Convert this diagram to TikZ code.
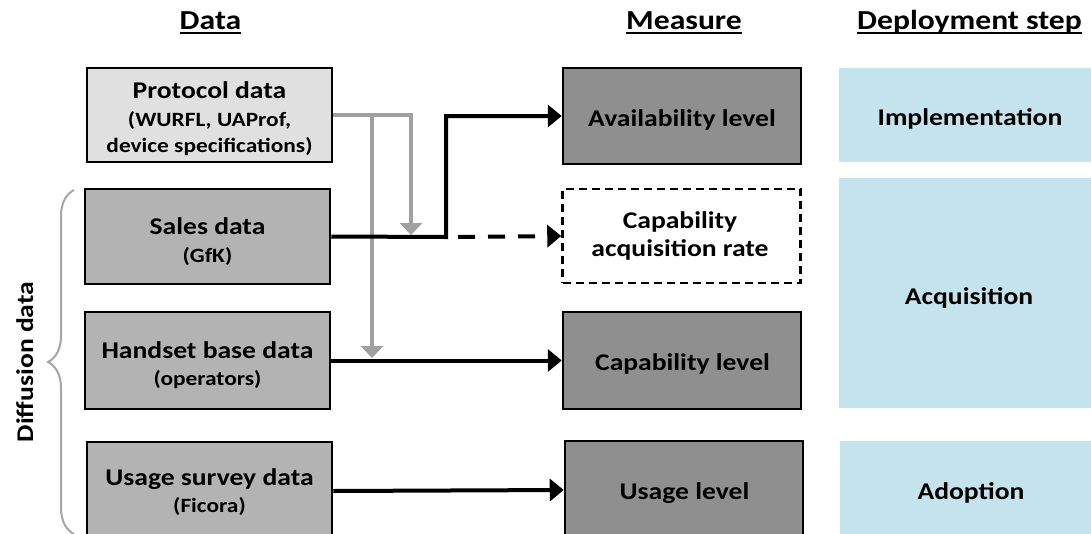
\documentclass[tikz,border=0pt]{standalone}
\usepackage{fontspec}
\setmainfont{Carlito}[FakeStretch=1.15]
\usetikzlibrary{arrows.meta,decorations.pathreplacing}
\definecolor{protofill}{HTML}{E0E0E0}
\definecolor{datafill}{HTML}{B3B3B3}
\definecolor{measfill}{HTML}{8F8F8F}
\definecolor{stepfill}{HTML}{C4E3EC}
\definecolor{garrowc}{HTML}{A0A0A0}
\definecolor{bracec}{HTML}{A6A6A6}
\newcommand\mainsz{\fontsize{24}{28}\selectfont}
\newcommand\smallsz{\fontsize{20.3}{24}\selectfont}
\newcommand\hdrsz{\fontsize{27.5}{32}\selectfont}
\tikzset{
  hdr/.style={font=\bfseries\hdrsz, inner sep=0pt, anchor=base},
  hdrline/.style={line width=2.5pt},
  txt/.style={font=\bfseries\mainsz, inner sep=0pt, anchor=base},
  smalltxt/.style={font=\bfseries\smallsz, inner sep=0pt, anchor=base},
  databox/.style={draw=black, line width=2.5pt, fill=datafill, minimum width=245pt, inner sep=0pt},
  measbox/.style={draw=black, line width=2.5pt, fill=measfill, minimum width=238pt, inner sep=0pt},
  stepbox/.style={fill=stepfill, minimum width=262pt, inner sep=0pt},
  barrow/.style={line width=4pt, -{Triangle[length=14pt,width=22pt]}},
  garrow/.style={draw=garrowc, line width=3.5pt, -{Triangle[length=12pt,width=22pt]}},
}
\begin{document}
\begin{tikzpicture}[x=1pt,y=-1pt]
\clip (0,0) rectangle (1091,533);
\fill[white] (0,0) rectangle (1091,533);

% headers
\node[hdr] (hdata) at (210.5,29) {Data};
\node[hdr] (hmeas) at (684,29) {Measure};
\node[hdr] (hstep) at (969.5,29) {Deployment step};
\foreach \h in {hdata,hmeas,hstep}{
  \draw[hdrline] ([yshift=-4pt]\h.base west) -- ([yshift=-4pt]\h.base east);
}

% data boxes
\node[databox, fill=protofill, minimum height=94pt] (proto) at (209.5,115) {};
\node[txt] (proto1) at (209.5,98) {Protocol data};
\node[smalltxt] (proto2) at (209.5,126.5) {(WURFL, UAProf,};
\node[smalltxt] (proto3) at (209.5,152) {device specifications)};

\node[databox, minimum height=95pt] (sales) at (207.5,236.5) {};
\node[txt] (sales1) at (207.5,234) {Sales data};
\node[smalltxt] (sales2) at (207.5,262) {(GfK)};

\node[databox, minimum height=97pt] (handset) at (207.5,360.5) {};
\node[txt] (handset1) at (207.5,358.3) {Handset base data};
\node[smalltxt] (handset2) at (207.5,385) {(operators)};

\node[databox, minimum height=98pt] (usage) at (209.5,491) {};
\node[txt] (usage1) at (209.5,485) {Usage survey data};
\node[smalltxt] (usage2) at (209.5,512) {(Ficora)};

% measure boxes
\node[measbox, minimum height=96pt] (avail) at (682,116) {};
\node[txt] (avail1) at (682,126.5) {Availability level};

\node[measbox, fill=white, dash pattern=on 8pt off 5pt, minimum height=94pt] (capacq) at (681.5,236) {};
\node[txt] (capacq1) at (680,228.3) {Capability};
\node[txt] (capacq2) at (680,256.7) {acquisition rate};

\node[measbox, minimum height=97pt] (caplvl) at (682,360.5) {};
\node[txt] (caplvl1) at (682.5,370) {Capability level};

\node[measbox, minimum height=98pt] (usagelvl) at (684,490) {};
\node[txt] (usagelvl1) at (684.5,499) {Usage level};

% deployment steps
\node[stepbox, minimum height=94pt] (impl) at (970,115) {};
\node[txt] (impl1) at (970,125) {Implementation};
\node[stepbox, minimum height=230pt] (acq) at (970,293) {};
\node[txt] (acq1) at (969,304.3) {Acquisition};
\node[stepbox, minimum height=102pt] (adopt) at (971,492) {};
\node[txt] (adopt1) at (971,499.3) {Adoption};

% brace and label
\coordinate (bbot) at (74,534);
\coordinate (btop) at (74,190);
\draw[bracec, line width=2pt, decorate, decoration={brace, amplitude=26pt}] (bbot) -- (btop);
\node[txt, rotate=90] (diff) at (33,362) {Diffusion data};

% connectors
\coordinate (jA) at (411,235);
\coordinate (jB) at (372,358);
\coordinate (bend) at (446,237);
\coordinate (dstart) at (458,237);
\draw[garrow] (proto.east) -| (jA);
\draw[garrow] (proto.east) -| (jB);
\draw[barrow] (sales.east) -- (bend) |- (avail.west);
\draw[barrow, dash pattern=on 17pt off 13pt] (dstart) -- (capacq.west);
\draw[barrow] (handset.east) -- (caplvl.west);
\draw[barrow] (usage.east) -- (usagelvl.west);
\end{tikzpicture}
\end{document}
